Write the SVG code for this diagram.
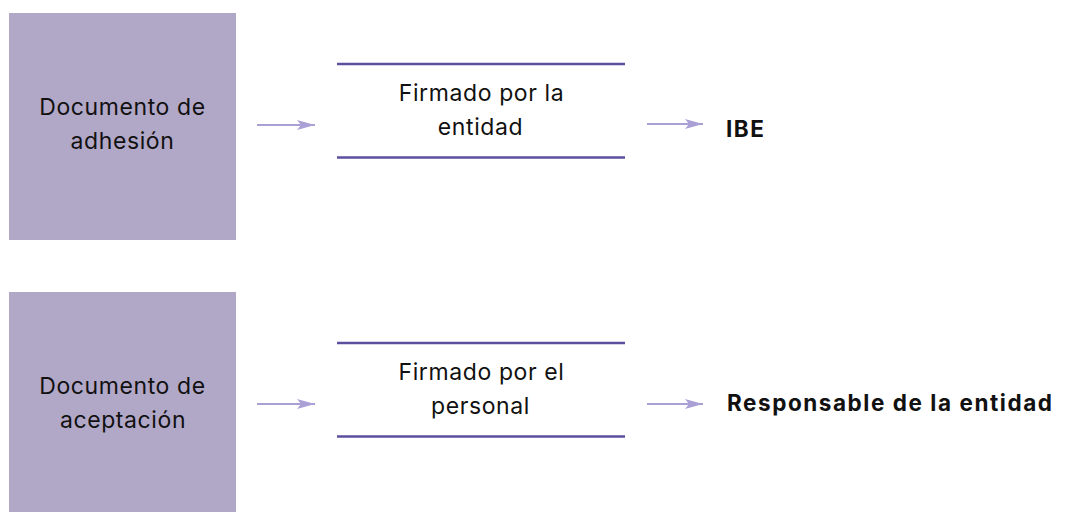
<svg xmlns="http://www.w3.org/2000/svg" width="1068" height="512" viewBox="0 0 1068 512">
<defs>
<style>
.box{fill:#b1a8c8}
.t{font-family:Inter,"Liberation Sans",sans-serif;font-size:23px;letter-spacing:0.6px;fill:#111;text-anchor:middle}
.b{font-family:Inter,"Liberation Sans",sans-serif;font-size:22.5px;letter-spacing:1.55px;font-weight:bold;fill:#111}
.rule{stroke:#5b4f9e;stroke-width:2.5}
.arr{stroke:#aaa0d6;stroke-width:2.2;fill:none}
.head{fill:#aaa0d6}
</style>
<marker id="ah" viewBox="0 0 18 10" refX="18" refY="5" markerWidth="18" markerHeight="10" markerUnits="userSpaceOnUse" orient="auto">
<path d="M0,0 L18,5 L0,10 L4,5 Z" class="head"/>
</marker>
</defs>
<rect width="1068" height="512" fill="#fff"/>
<g id="doc-adhesion">
<rect class="box" x="9" y="13" width="227" height="227"/>
<text class="t" x="122.5" y="115">Documento de</text>
<text class="t" x="122.5" y="149">adhesión</text>
</g>
<g id="firmado-entidad">
<line class="rule" x1="337" y1="64" x2="625" y2="64"/>
<line class="rule" x1="337" y1="157.5" x2="625" y2="157.5"/>
<text class="t" x="481.5" y="101">Firmado por la</text>
<text class="t" x="480.5" y="135">entidad</text>
</g>
<g id="ibe">
<text class="b" x="726" y="137">IBE</text>
</g>
<g id="doc-aceptacion">
<rect class="box" x="9" y="292" width="227" height="230"/>
<text class="t" x="122.5" y="394">Documento de</text>
<text class="t" x="123" y="428">aceptación</text>
</g>
<g id="firmado-personal">
<line class="rule" x1="337" y1="343" x2="625" y2="343"/>
<line class="rule" x1="337" y1="436.5" x2="625" y2="436.5"/>
<text class="t" x="481.5" y="380">Firmado por el</text>
<text class="t" x="480.5" y="414">personal</text>
</g>
<g id="responsable">
<text class="b" x="727" y="411">Responsable de la entidad</text>
</g>
<g id="connectors">
<line class="arr" x1="257" y1="125" x2="315" y2="125" marker-end="url(#ah)"/>
<line class="arr" x1="647" y1="124" x2="703" y2="124" marker-end="url(#ah)"/>
<line class="arr" x1="257" y1="404" x2="315" y2="404" marker-end="url(#ah)"/>
<line class="arr" x1="647" y1="404" x2="703" y2="404" marker-end="url(#ah)"/>
</g>
</svg>
